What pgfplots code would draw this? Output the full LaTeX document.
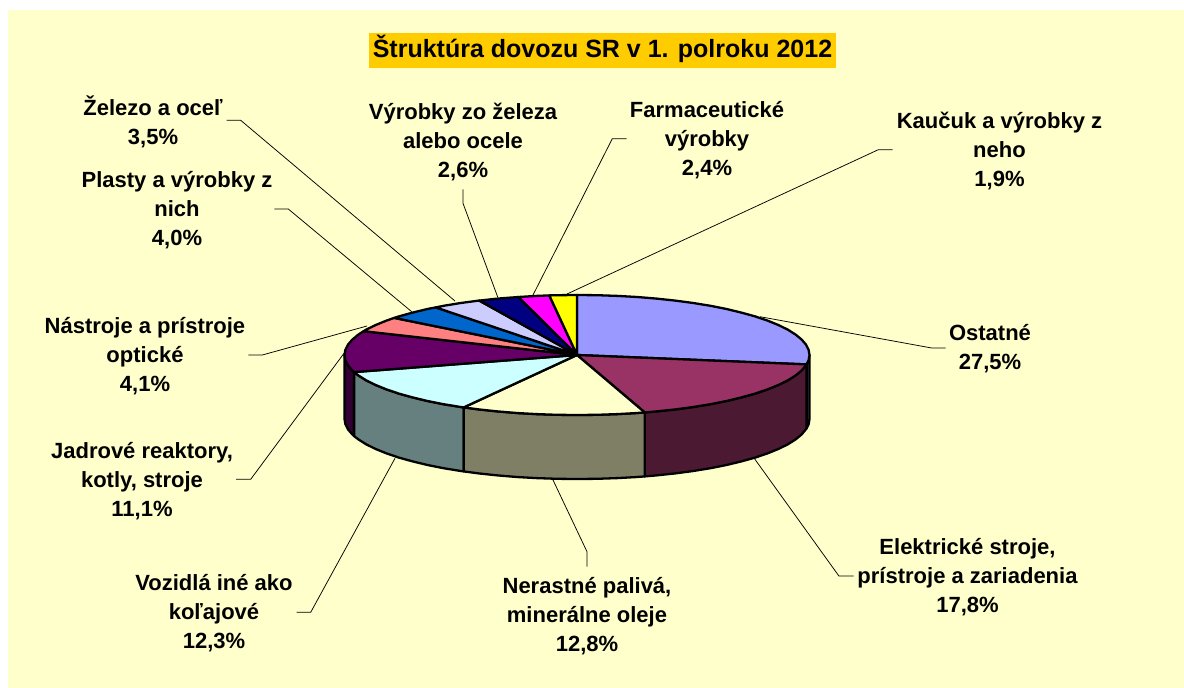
\documentclass[border=0pt]{standalone}
\usepackage{fontspec}
\setmainfont{Liberation Sans}
\usepackage{pgfplots}
\pgfplotsset{compat=1.18}
\definecolor{bg}{HTML}{FFFFCC}
\definecolor{titlebg}{HTML}{FFCC00}
\definecolor{sOst}{HTML}{4C4C7F}
\definecolor{sJad}{HTML}{330033}
\definecolor{sEle}{HTML}{4C1933}
\definecolor{sVoz}{HTML}{667F7F}
\definecolor{sNer}{HTML}{7F7F66}
\definecolor{tOst}{HTML}{9999FF}
\definecolor{tEle}{HTML}{993366}
\definecolor{tNer}{HTML}{FFFFCC}
\definecolor{tVoz}{HTML}{CCFFFF}
\definecolor{tJad}{HTML}{660066}
\definecolor{tNas}{HTML}{FF8080}
\definecolor{tPla}{HTML}{0066CC}
\definecolor{tZel}{HTML}{CCCCFF}
\definecolor{tVyr}{HTML}{000080}
\definecolor{tFar}{HTML}{FF00FF}
\definecolor{tKau}{HTML}{FFFF00}
\tikzset{lab/.style={font=\fontsize{22}{29}\selectfont\bfseries,align=center,anchor=center,inner sep=0pt,text=black}}
\pgfplotsset{
 slice/.style={draw=black,line width=2.3pt,line join=round,fill=#1,mark=none},
 leader/.style={draw=black,line width=0.75pt,mark=none}}
\begin{document}
\begin{tikzpicture}
\begin{axis}[scale only axis,width=1184pt,height=688pt,xmin=0,xmax=1184,ymin=0,ymax=688,y dir=reverse,axis lines=none,clip=false]
% backgrounds
\addplot[fill=white,draw=none,mark=none] coordinates {(0,0)(1184,0)(1184,688)(0,688)} -- cycle;
\addplot[fill=bg,draw=none,mark=none] coordinates {(8,10)(1184,10)(1184,688)(8,688)} -- cycle;
\addplot[fill=titlebg,draw=none,mark=none] coordinates {(369,33)(836,33)(836,68)(369,68)} -- cycle;
% leader lines
\addplot[leader] coordinates {(945.7,348)(931.7,348)(760,316.7)};
\addplot[leader] coordinates {(853.5,576)(838.9,576)(754,458)};
\addplot[leader] coordinates {(587,566.7)(587,551.7)(553,480)};
\addplot[leader] coordinates {(296.7,612.3)(310.7,612.3)(395,458.3)};
\addplot[leader] coordinates {(236,479.3)(250.7,479.3)(344,353.3)};
\addplot[leader] coordinates {(248.3,355)(262.3,355)(367,326)};
\addplot[leader] coordinates {(274.3,209)(288.3,209)(411.7,311.7)};
\addplot[leader] coordinates {(226.7,120.3)(240.7,120.3)(455,301)};
\addplot[leader] coordinates {(463,189.3)(463,203.3)(497.7,297)};
\addplot[leader] coordinates {(626.7,138.7)(612.3,138.7)(532.5,296)};
\addplot[leader] coordinates {(892.7,149.7)(878.3,149.7)(567,294)};
% sides of the pie
\addplot[slice=sOst] coordinates {(809.5,355)(808.6,360.2)(806.6,364.4)(806.6,428.4)(808.6,424.2)(809.5,419)} -- cycle;
\addplot[slice=sJad] coordinates {(354.1,372.1)(352.4,370.5)(348.0,365.4)(345.4,360.2)(344.5,355)(344.5,419)(345.4,424.2)(348.0,429.4)(352.4,434.5)(354.1,436.1)} -- cycle;
\addplot[slice=sEle] coordinates {(806.6,364.4)(801.6,370.5)(795.5,375.5)(787.7,380.4)(778.3,385.0)(767.5,389.4)(755.1,393.6)(741.4,397.4)(726.5,401.0)(710.4,404.2)(693.3,407.0)(675.3,409.4)(656.5,411.4)(644.7,412.4)(644.7,476.4)(656.5,475.4)(675.3,473.4)(693.3,471.0)(710.4,468.2)(726.5,465.0)(741.4,461.4)(755.1,457.6)(767.5,453.4)(778.3,449.0)(787.7,444.4)(795.5,439.5)(801.6,434.5)(806.6,428.4)} -- cycle;
\addplot[slice=sVoz] coordinates {(463.7,407.4)(460.7,407.0)(443.6,404.2)(427.5,401.0)(412.6,397.4)(398.9,393.6)(386.5,389.4)(375.7,385.0)(366.3,380.4)(358.5,375.5)(354.1,372.1)(354.1,436.1)(358.5,439.5)(366.3,444.4)(375.7,449.0)(386.5,453.4)(398.9,457.6)(412.6,461.4)(427.5,465.0)(443.6,468.2)(460.7,471.0)(463.7,471.4)} -- cycle;
\addplot[slice=sNer] coordinates {(644.7,412.4)(637.2,413.0)(617.4,414.1)(597.3,414.8)(577,415)(556.7,414.8)(536.6,414.1)(516.8,413.0)(497.5,411.4)(478.7,409.4)(463.7,407.4)(463.7,471.4)(478.7,473.4)(497.5,475.4)(516.8,477.0)(536.6,478.1)(556.7,478.8)(577,479)(597.3,478.8)(617.4,478.1)(637.2,477.0)(644.7,476.4)} -- cycle;
% top surfaces: Ostatne 27.5
\addplot[slice=tOst] coordinates {(577,355)(577,295)(597.3,295.2)(617.4,295.9)(637.2,297.0)(656.5,298.6)(675.3,300.6)(693.3,303.0)(710.4,305.8)(726.5,309.0)(741.4,312.6)(755.1,316.4)(767.5,320.6)(778.3,325.0)(787.7,329.6)(795.5,334.5)(801.6,339.5)(806.0,344.6)(808.6,349.8)(809.5,355.0)(808.6,360.2)(806.6,364.4)} -- cycle;
% Elektricke 17.8
\addplot[slice=tEle] coordinates {(577,355)(806.6,364.4)(801.6,370.5)(795.5,375.5)(787.7,380.4)(778.3,385.0)(767.5,389.4)(755.1,393.6)(741.4,397.4)(726.5,401.0)(710.4,404.2)(693.3,407.0)(675.3,409.4)(656.5,411.4)(644.7,412.4)} -- cycle;
% Nerastne 12.8
\addplot[slice=tNer] coordinates {(577,355)(644.7,412.4)(637.2,413.0)(617.4,414.1)(597.3,414.8)(577,415)(556.7,414.8)(536.6,414.1)(516.8,413.0)(497.5,411.4)(478.7,409.4)(463.7,407.4)} -- cycle;
% Vozidla 12.3
\addplot[slice=tVoz] coordinates {(577,355)(463.7,407.4)(460.7,407.0)(443.6,404.2)(427.5,401.0)(412.6,397.4)(398.9,393.6)(386.5,389.4)(375.7,385.0)(366.3,380.4)(358.5,375.5)(354.1,372.1)} -- cycle;
% Jadrove 11.1
\addplot[slice=tJad] coordinates {(577,355)(354.1,372.1)(352.4,370.5)(348.0,365.4)(345.4,360.2)(344.5,355)(345.4,349.8)(348.0,344.6)(352.4,339.5)(358.5,334.5)(363.6,331.2)} -- cycle;
% Nastroje 4.1
\addplot[slice=tNas] coordinates {(577,355)(363.6,331.2)(366.3,329.6)(375.7,325.0)(386.5,320.6)(394.2,317.9)} -- cycle;
% Plasty 4.0
\addplot[slice=tPla] coordinates {(577,355)(394.2,317.9)(398.9,316.4)(412.6,312.6)(427.5,309.0)(435.7,307.4)} -- cycle;
% Zelezo 3.5
\addplot[slice=tZel] coordinates {(577,355)(435.7,307.4)(443.6,305.8)(460.7,303.0)(478.7,300.6)(479.3,300.6)} -- cycle;
% Vyrobky 2.6
\addplot[slice=tVyr] coordinates {(577,355)(479.3,300.6)(497.5,298.6)(518.5,297.0)} -- cycle;
% Farmaceuticke 2.4
\addplot[slice=tFar] coordinates {(577,355)(518.5,297.0)(536.6,295.9)(549.3,295.4)} -- cycle;
% Kaucuk 1.9
\addplot[slice=tKau] coordinates {(577,355)(549.3,295.4)(556.7,295.2)(577,295)} -- cycle;
% labels
\node[lab,font=\fontsize{25}{28}\selectfont\bfseries] at (axis cs:602.5,49) {Štruktúra dovozu SR v 1. polroku 2012};
\node[lab] at (axis cs:990,349) {Ostatné\\27,5\%};
\node[lab] at (axis cs:999.5,151) {Kaučuk a výrobky z\\neho\\1,9\%};
\node[lab] at (axis cs:707,140) {Farmaceutické\\výrobky\\2,4\%};
\node[lab] at (axis cs:463,142) {Výrobky zo železa\\alebo ocele\\2,6\%};
\node[lab] at (axis cs:153,121.5) {Železo a oceľ\\3,5\%};
\node[lab] at (axis cs:177,210) {Plasty a výrobky z\\nich\\4,0\%};
\node[lab] at (axis cs:145,356) {Nástroje a prístroje\\optické\\4,1\%};
\node[lab] at (axis cs:142,481) {Jadrové reaktory,\\kotly, stroje\\11,1\%};
\node[lab] at (axis cs:214,613) {Vozidlá iné ako\\koľajové\\12,3\%};
\node[lab] at (axis cs:587,616) {Nerastné palivá,\\minerálne oleje\\12,8\%};
\node[lab] at (axis cs:967.5,577) {Elektrické stroje,\\prístroje a zariadenia\\17,8\%};
\end{axis}
\end{tikzpicture}
\end{document}
